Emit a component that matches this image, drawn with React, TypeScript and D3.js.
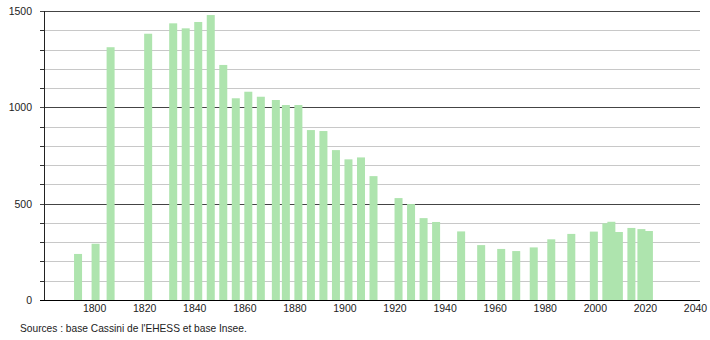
import React from "react";
import * as d3 from "d3";

const years = [1793, 1800, 1806, 1821, 1831, 1836, 1841, 1846, 1851, 1856, 1861, 1866, 1872, 1876, 1881, 1886, 1891, 1896, 1901, 1906, 1911, 1921, 1926, 1931, 1936, 1946, 1954, 1962, 1968, 1975, 1982, 1990, 1999, 2004, 2006, 2009, 2014, 2018, 2021];
const population = [239, 292, 1312, 1382, 1436, 1410, 1443, 1479, 1220, 1047, 1081, 1055, 1038, 1012, 1012, 882, 877, 778, 730, 740, 643, 529, 498, 425, 405, 356, 285, 265, 254, 273, 315, 343, 355, 398, 406, 353, 374, 368, 358];
const xTicks = [1800, 1820, 1840, 1860, 1880, 1900, 1920, 1940, 1960, 1980, 2000, 2020, 2040];
const yMajor = [0, 500, 1000, 1500];
const yMinor = d3.range(0, 1501, 100);
const sourceText = "Sources : base Cassini de l'EHESS et base Insee.";

export default function App() {
  const left = 44, right = 700, top = 11, bottom = 300;
  const x = d3.scaleLinear().domain([1779.4, 2041.4]).range([left, right]);
  const y = d3.scaleLinear().domain([0, 1500]).range([bottom, top]);
  const barW = 8;
  const font = "'Liberation Sans', Arial, sans-serif";
  return (
    <svg width={710} height={340} style={{ position: "absolute", left: 0, top: 0, background: "#fff" }}>
      {yMinor.filter(v => !yMajor.includes(v)).map(v => (
        <g key={"m" + v}>
          <line x1={left} x2={right} y1={Math.round(y(v)) + 0.5} y2={Math.round(y(v)) + 0.5} stroke="#c8c8c8" strokeWidth={1} />
          <line x1={left - 4} x2={left} y1={Math.round(y(v)) + 0.5} y2={Math.round(y(v)) + 0.5} stroke="#333" strokeWidth={1} />
        </g>
      ))}
      {yMajor.map(v => (
        <g key={"M" + v}>
          <line x1={left - 4} x2={right} y1={Math.round(y(v)) + 0.5} y2={Math.round(y(v)) + 0.5} stroke={v === 0 ? "#000" : "#444"} strokeWidth={1} />
          <text x={32} y={y(v) + 4} textAnchor="end" fontFamily={font} fontSize={10.5} fill="#222">{v}</text>
        </g>
      ))}
      {years.map((yr, i) => (
        <rect key={yr} x={x(yr) - barW / 2} y={y(population[i])} width={barW} height={bottom - y(population[i])} fill="#aee4ae" />
      ))}
      <line x1={left + 0.5} x2={left + 0.5} y1={top} y2={bottom} stroke="#222" strokeWidth={1} />
      <line x1={left} x2={right} y1={bottom + 0.5} y2={bottom + 0.5} stroke="#000" strokeWidth={1} />
      {xTicks.map(t => (
        <text key={t} x={x(t) - 1} y={312} textAnchor="middle" fontFamily={font} fontSize={10.5} fill="#222">{t}</text>
      ))}
      <text x={20} y={332} fontFamily={font} fontSize={10.2} fill="#222">{sourceText}</text>
    </svg>
  );
}
